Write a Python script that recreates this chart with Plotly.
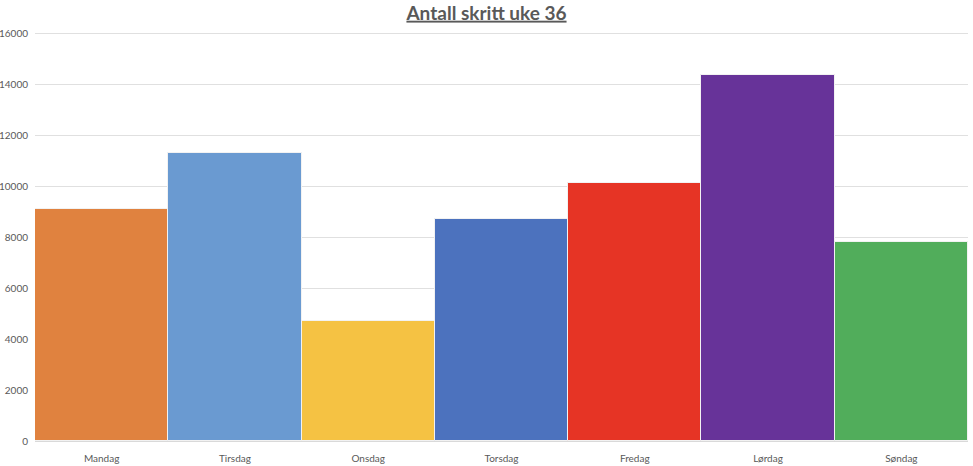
import plotly.graph_objects as go

days = ["Mandag", "Tirsdag", "Onsdag", "Torsdag", "Fredag", "Lørdag", "Søndag"]
steps = [9100, 11300, 4720, 8720, 10100, 14340, 7790]
colors = ["#E0823F", "#6A9AD1", "#F5C243", "#4C72BE", "#E63425", "#673399", "#51AD5B"]
y_ticks = [0, 2000, 4000, 6000, 8000, 10000, 12000, 14000, 16000]

fig = go.Figure(go.Bar(
    x=days, y=steps,
    marker=dict(color=colors, line=dict(color="#F2F2F2", width=1)),
))

fig.update_layout(
    width=973, height=466,
    margin=dict(l=35, r=5, t=32, b=25),
    paper_bgcolor="white", plot_bgcolor="white",
    bargap=0,
    showlegend=False,
    title=dict(text="<b><u>Antall skritt uke 36</u></b>", x=0.5, xref="container",
               xanchor="center", y=0.972, yanchor="middle",
               font=dict(family="Lato, Carlito, sans-serif", size=19, color="#595959")),
    font=dict(family="Lato, Carlito, sans-serif", size=10, color="#595959"),
    xaxis=dict(showgrid=False, showline=True, linecolor="#D9D9D9", linewidth=1,
               ticks="", automargin=False, ticklabelstandoff=8,
               tickfont=dict(size=10, color="#595959")),
    yaxis=dict(range=[0, 16040], tickvals=y_ticks, ticktext=[str(v) for v in y_ticks],
               showgrid=True, gridcolor="#E0E0E0", gridwidth=1, zeroline=False,
               showline=False, ticks="", ticklabelstandoff=6, automargin=False,
               tickfont=dict(size=10, color="#595959")),
)

fig.write_html("out.html")
